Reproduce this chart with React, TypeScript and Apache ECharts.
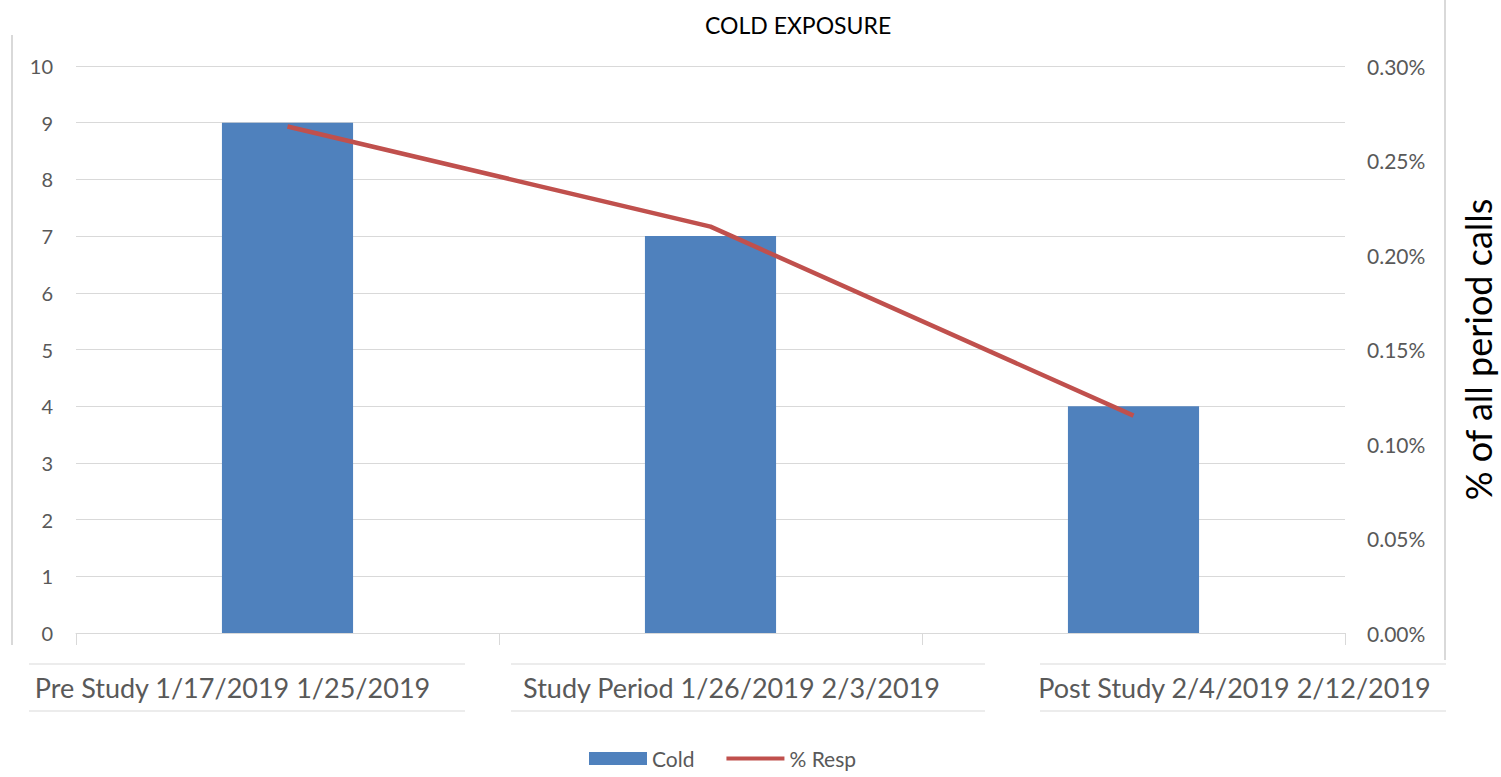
import React, { useEffect, useRef } from "react";
import * as echarts from "echarts";

const categories = [
  "Pre Study 1/17/2019 1/25/2019",
  "Study Period 1/26/2019 2/3/2019",
  "Post Study 2/4/2019 2/12/2019",
];
const coldCounts = [9, 7, 4];
const respPercent = [0.268, 0.215, 0.115];
const leftTicks = { min: 0, max: 10, interval: 1 };
const rightTicks = { min: 0, max: 0.3, interval: 0.05 };

const FONT = "Lato, 'Open Sans', sans-serif";
const GRAY = "#595959";
const GRID = "#d9d9d9";

export default function App() {
  const ref = useRef<HTMLDivElement>(null);
  useEffect(() => {
    if (!ref.current) return;
    const chart = echarts.init(ref.current, null, { renderer: "svg" });
    const labelPads = [
      [0, 110, 0, 0],
      [0, 0, 0, 42],
      [0, 0, 0, 202],
    ];
    const rich: Record<string, any> = {};
    labelPads.forEach((p, i) => {
      rich["a" + i] = { padding: p, fontSize: 27, color: GRAY, fontFamily: FONT };
    });
    chart.setOption({
      animation: false,
      backgroundColor: "#ffffff",
      title: {
        text: "COLD EXPOSURE",
        left: 700,
        top: 8,
        textStyle: { fontSize: 23, fontWeight: "normal", color: "#000", fontFamily: FONT },
      },
      grid: { left: 76, right: 156, top: 66, bottom: 144, outerBoundsMode: "none", containLabel: false },
      legend: {
        bottom: 3,
        left: 584,
        itemWidth: 58,
        itemHeight: 13,
        itemGap: 32,
        textStyle: { fontSize: 21, color: GRAY, fontFamily: FONT },
        data: [
          { name: "Cold", icon: "rect" },
          { name: "% Resp", icon: "path://M0,0M0,4.5h60v4h-60zM60,13" },
        ],
      },
      xAxis: {
        type: "category",
        data: categories,
        axisLine: { lineStyle: { color: GRID, width: 1 } },
        axisTick: { show: true, length: 12, lineStyle: { color: GRID } },
        axisLabel: {
          margin: 41,
          interval: 0,
          formatter: (v: string) => `{a${categories.indexOf(v)}|${v}}`,
          rich,
        },
      },
      yAxis: [
        {
          type: "value",
          ...leftTicks,
          axisLine: { show: false },
          axisTick: { show: false },
          splitLine: { lineStyle: { color: GRID, width: 1 } },
          axisLabel: { margin: 23, fontSize: 20, color: GRAY, fontFamily: FONT },
        },
        {
          type: "value",
          position: "right",
          ...rightTicks,
          name: "% of all period calls",
          nameLocation: "middle",
          nameRotate: 90,
          nameGap: 115,
          nameTextStyle: { fontSize: 36, color: "#000", fontFamily: FONT },
          axisLine: { show: false },
          axisTick: { show: false },
          splitLine: { show: false },
          axisLabel: {
            margin: 22,
            fontSize: 21,
            color: GRAY,
            fontFamily: FONT,
            formatter: (v: number) => v.toFixed(2) + "%",
          },
        },
      ],
      series: [
        {
          name: "Cold",
          type: "bar",
          data: coldCounts,
          barWidth: "31%",
          itemStyle: { color: "#4f81bd" },
          yAxisIndex: 0,
        },
        {
          name: "% Resp",
          type: "line",
          data: respPercent,
          yAxisIndex: 1,
          symbol: "none",
          lineStyle: { color: "#c0504d", width: 4.5 },
          itemStyle: { color: "#c0504d" },
        },
      ],
      graphic: [
        { type: "line", shape: { x1: 12, y1: 35, x2: 12, y2: 645 }, style: { stroke: GRID, lineWidth: 2 } },
        { type: "line", shape: { x1: 1445, y1: 0, x2: 1445, y2: 660 }, style: { stroke: GRID, lineWidth: 2 } },
        { type: "line", shape: { x1: 29, y1: 664, x2: 465, y2: 664 }, style: { stroke: GRID, lineWidth: 1 } },
        { type: "line", shape: { x1: 29, y1: 711, x2: 465, y2: 711 }, style: { stroke: GRID, lineWidth: 1 } },
        { type: "line", shape: { x1: 511, y1: 664, x2: 985, y2: 664 }, style: { stroke: GRID, lineWidth: 1 } },
        { type: "line", shape: { x1: 511, y1: 711, x2: 985, y2: 711 }, style: { stroke: GRID, lineWidth: 1 } },
        { type: "line", shape: { x1: 1040, y1: 664, x2: 1446, y2: 664 }, style: { stroke: GRID, lineWidth: 1 } },
        { type: "line", shape: { x1: 1040, y1: 711, x2: 1446, y2: 711 }, style: { stroke: GRID, lineWidth: 1 } },
      ],
    });
    return () => chart.dispose();
  }, []);
  return (
    <div
      ref={ref}
      style={{ position: "fixed", left: 0, top: 0, width: 1501, height: 777 }}
    />
  );
}
